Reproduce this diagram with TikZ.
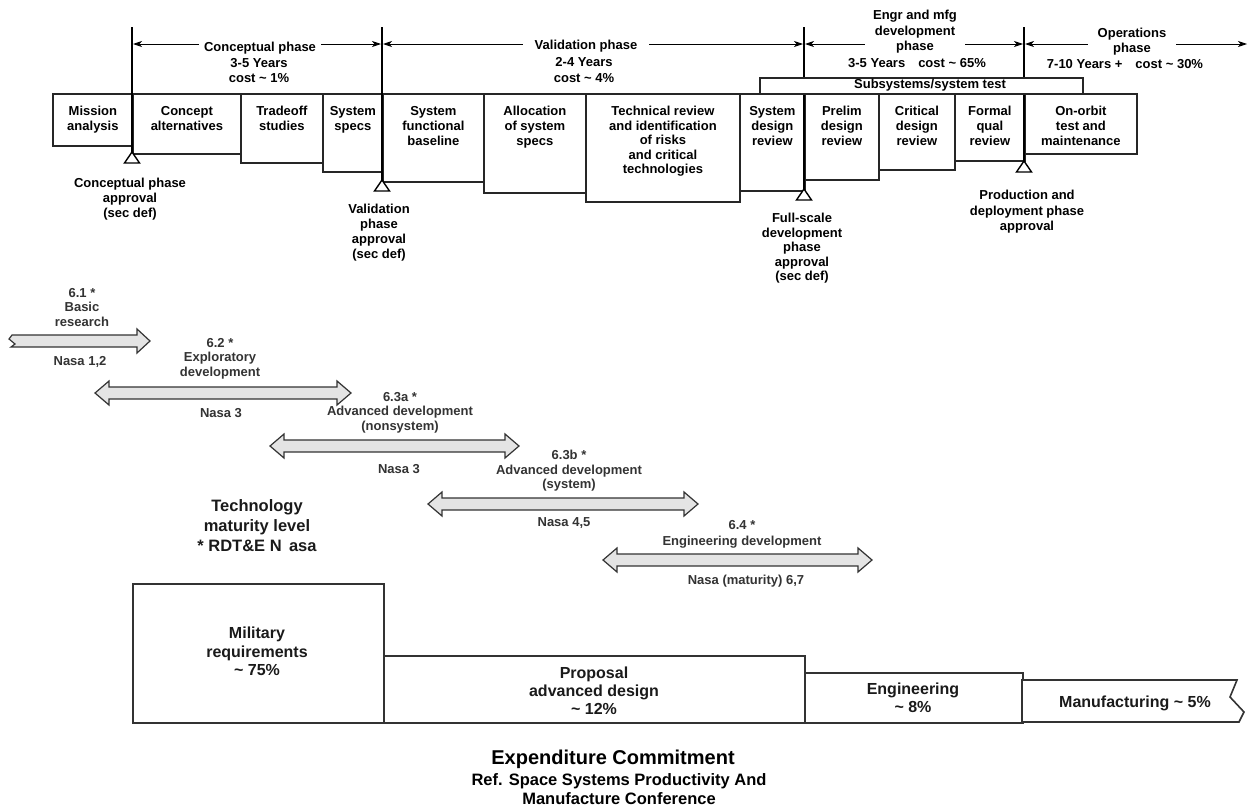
\documentclass[tikz,border=0pt]{standalone}
\usepackage{fontspec}
\setmainfont{Liberation Sans}
\usetikzlibrary{arrows.meta}
\definecolor{ink}{HTML}{1A1A1A}
\definecolor{lab}{HTML}{333333}
\definecolor{afill}{HTML}{E4E4E4}
\newcommand\fs[2]{\fontsize{#1}{#2}\selectfont\bfseries}
\newcommand\tld{\textasciitilde}
\newcommand\fatdarrow[3]{\draw[fatar] (#1,#3) -- ++(14,-12) -- ++(0,6) -- (#2-14,#3-6) -- ++(0,-6) -- (#2,#3) -- ++(-14,12) -- ++(0,-6) -- (#1+14,#3+6) -- ++(0,6) -- cycle;}
\begin{document}
\begin{tikzpicture}[x=1pt,y=-1pt,
  tbox/.style={draw=black!85,line width=1.8pt,fill=white,inner sep=0pt,anchor=north west},
  lbox/.style={draw=lab,line width=1.6pt,fill=white,inner sep=0pt,anchor=north west},
  vline/.style={line width=2.2pt,black},
  tri/.style={draw=black,line width=1.4pt,fill=white,line join=miter},
  parrow/.style={line width=0.9pt,black,{Stealth[length=9pt,width=6pt,inset=2.5pt]}-{Stealth[length=9pt,width=6pt,inset=2.5pt]}},
  fatar/.style={draw=lab,fill=afill,line width=1.2pt,line join=miter},
  ttxt/.style={font=\fs{13}{15},align=center,inner sep=0pt,anchor=north,text=black},
  ptitle/.style={font=\fs{13}{15},align=center,fill=white,inner xsep=5pt,inner ysep=2pt,anchor=north,text=black},
  ltxt/.style={font=\fs{13}{14.5},align=center,inner sep=0pt,anchor=north,text=lab},
]
\useasboundingbox (0,0) rectangle (1248,806);

% ---------- top row of boxes ----------
\node[tbox,minimum width=80pt,minimum height=52pt] (mission) at (52,93) {};
\node[tbox,minimum width=108pt,minimum height=60pt] (concept) at (132,93) {};
\node[tbox,minimum width=82pt,minimum height=69pt] (tradeoff) at (240,93) {};
\node[tbox,minimum width=60pt,minimum height=78pt] (specs) at (322,93) {};
\node[tbox,minimum width=101pt,minimum height=88pt] (sfb) at (382,93) {};
\node[tbox,minimum width=102pt,minimum height=99pt] (alloc) at (483,93) {};
\node[tbox,minimum width=154pt,minimum height=108pt] (tech) at (585,93) {};
\node[tbox,minimum width=65pt,minimum height=97pt] (sdr) at (739,93) {};
\node[tbox,minimum width=74pt,minimum height=86pt] (pdr) at (804,93) {};
\node[tbox,minimum width=76pt,minimum height=76pt] (cdr) at (878,93) {};
\node[tbox,minimum width=70pt,minimum height=67pt] (fqr) at (954,93) {};
\node[tbox,minimum width=112pt,minimum height=60pt] (orbit) at (1024,93) {};

% ---------- phase boundary lines ----------
\coordinate (v1t) at (132,27); \coordinate (v1b) at (132,152);
\coordinate (v2t) at (382,27); \coordinate (v2b) at (382,180);
\coordinate (v3t) at (804,27); \coordinate (v3b) at (804,189);
\coordinate (v4t) at (1024,27); \coordinate (v4b) at (1024,161);
\draw[vline] (v1t) -- (v1b);
\draw[vline] (v2t) -- (v2b);
\draw[vline] (v3t) -- (v3b);
\draw[vline] (v4t) -- (v4b);

% subsystems test bar
\node[tbox,minimum width=323pt,minimum height=16pt] (subsys) at (759,77) {};
\node[font=\fs{13}{15},inner sep=0pt] (subsyst) at (930,85) {Subsystems/system test};

% approval triangles
\draw[tri] (v1b) -- ++(-7.5,11) -- ++(15,0) -- cycle;
\draw[tri] (v2b) -- ++(-7.5,11) -- ++(15,0) -- cycle;
\draw[tri] (v3b) -- ++(-7.5,11) -- ++(15,0) -- cycle;
\draw[tri] (v4b) -- ++(-7.5,11) -- ++(15,0) -- cycle;

% ---------- phase arrows ----------
\coordinate (a1) at (133,44); \coordinate (a2) at (381,44);
\coordinate (a3) at (383,44); \coordinate (a4) at (803,44);
\coordinate (a5) at (805,44); \coordinate (a6) at (1023,44);
\coordinate (a7) at (1025,44); \coordinate (a8) at (1247,44);
\draw[parrow] (a1) -- (a2);
\draw[parrow] (a3) -- (a4);
\draw[parrow] (a5) -- (a6);
\draw[parrow] (a7) -- (a8);

\node[ptitle] (cph) at (260,40) {Conceptual phase};
\node[ttxt] (cphs) at (259,58) {3-5 Years\\cost \tld{} 1\%};
\node[ptitle,inner xsep=12pt] (vph) at (586,38) {Validation phase};
\node[ttxt,font=\fs{13}{16}] (vphs) at (584,57) {2-4 Years\\cost \tld{} 4\%};
\node[ptitle,inner xsep=8pt,font=\fs{13}{15.5}] (eph) at (915,8) {Engr and mfg\\development\\phase};
\node[ttxt] (ephs) at (917,58) {3-5 Years\quad cost \tld{} 65\%};
\node[ptitle,inner xsep=10pt] (oph) at (1132,26) {Operations\\phase};
\node[ttxt] (ophs) at (1125,59) {7-10 Years +\quad cost \tld{} 30\%};

% ---------- box texts ----------
\node[ttxt] (tmission) at ([yshift=-13pt]mission.north) {Mission\\analysis};
\node[ttxt] (tconcept) at ([yshift=-13pt]concept.north) {Concept\\alternatives};
\node[ttxt] (ttradeoff) at ([yshift=-13pt]tradeoff.north) {Tradeoff\\studies};
\node[ttxt] (tspecs) at ([yshift=-13pt]specs.north) {System\\specs};
\node[ttxt] (tsfb) at ([yshift=-13pt]sfb.north) {System\\functional\\baseline};
\node[ttxt] (talloc) at ([yshift=-13pt]alloc.north) {Allocation\\of system\\specs};
\node[ttxt,font=\fs{13}{14.5}] (ttech) at ([yshift=-13pt]tech.north) {Technical review\\and identification\\of risks\\and critical\\technologies};
\node[ttxt] (tsdr) at ([yshift=-13pt]sdr.north) {System\\design\\review};
\node[ttxt] (tpdr) at ([yshift=-13pt]pdr.north) {Prelim\\design\\review};
\node[ttxt] (tcdr) at ([yshift=-13pt]cdr.north) {Critical\\design\\review};
\node[ttxt] (tfqr) at ([yshift=-13pt]fqr.north) {Formal\\qual\\review};
\node[ttxt] (torbit) at ([yshift=-13pt]orbit.north) {On-orbit\\test and\\maintenance};

% ---------- approvals ----------
\node[ttxt] (appr1) at (130,178) {Conceptual phase\\approval\\(sec def)};
\node[ttxt] (appr2) at (379,204) {Validation\\phase\\approval\\(sec def)};
\node[ttxt,font=\fs{13}{14.5}] (appr3) at (802,213) {Full-scale\\development\\phase\\approval\\(sec def)};
\node[ttxt,font=\fs{13}{15.5}] (appr4) at (1027,190) {Production and\\deployment phase\\approval};

% ---------- technology arrows ----------
\draw[fatar] (12,335) -- (137,335) -- (137,329) -- (150,341) -- (137,353) -- (137,347) -- (11,347) -- (15,344) -- (9,339) -- cycle;
\fatdarrow{95}{351}{393}
\fatdarrow{270}{519}{446}
\fatdarrow{428}{698}{504}
\fatdarrow{603}{872}{560}

\node[ltxt] (l61) at (82,288) {6.1 *\\Basic\\research};
\node[ltxt] (n61) at (80,356) {Nasa 1,2};
\node[ltxt] (l62) at (220,338) {6.2 *\\Exploratory\\development};
\node[ltxt] (n62) at (221,408) {Nasa 3};
\node[ltxt] (l63a) at (400,392) {6.3a *\\Advanced development\\(nonsystem)};
\node[ltxt] (n63a) at (399,464) {Nasa 3};
\node[ltxt] (l63b) at (569,450) {6.3b *\\Advanced development\\(system)};
\node[ltxt] (n63b) at (564,517) {Nasa 4,5};
\node[ltxt,font=\fs{13}{16}] (l64) at (742,520) {6.4 *\\Engineering development};
\node[ltxt] (n64) at (746,575) {Nasa (maturity) 6,7};

\node[ttxt,font=\fs{16.5}{20},text=ink] (techlev) at (257,499) {Technology\\maturity level\\* RDT\&E N\,\ asa};

% ---------- expenditure commitment ----------
\node[lbox,minimum width=251pt,minimum height=139pt] (mil) at (132,583) {};
\node[lbox,minimum width=421pt,minimum height=67pt] (prop) at (383,655) {};
\node[lbox,minimum width=218pt,minimum height=50pt] (eng) at (804,672) {};
\draw[draw=lab,line width=1.6pt,fill=white,line join=miter] (1022,680) -- (1237,680) -- (1230,697) -- (1244,712) -- (1239,722) -- (1022,722) -- cycle;

\node[ttxt,font=\fs{16}{18.5},text=ink] (tmil) at (257,627) {Military\\requirements\\\tld{} 75\%};
\node[ttxt,font=\fs{16}{18},text=ink] (tprop) at (594,667) {Proposal\\advanced design\\\tld{} 12\%};
\node[ttxt,font=\fs{16}{18},text=ink] (teng) at (913,683) {Engineering\\\tld{} 8\%};
\node[ttxt,font=\fs{16}{18},text=ink] (tman) at (1135,696) {Manufacturing \tld{} 5\%};

\node[ttxt,font=\fs{20}{22}] (expt) at (613,750) {Expenditure Commitment};
\node[ttxt,font=\fs{16.5}{19}] (reft) at (619,773) {Ref. Space Systems Productivity And\\Manufacture Conference};
\end{tikzpicture}
\end{document}
